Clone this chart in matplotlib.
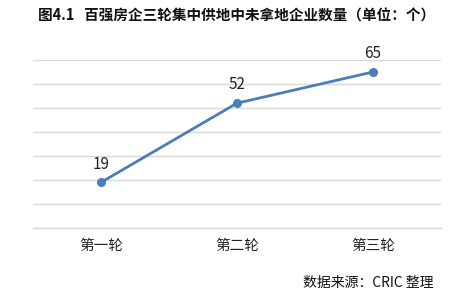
import matplotlib

matplotlib.use("Agg")
import matplotlib.pyplot as plt

plt.rcParams["font.family"] = ["Noto Sans CJK SC", "DejaVu Sans"]

rounds = ["第一轮", "第二轮", "第三轮"]
counts = [19, 52, 65]
title = "图4.1   百强房企三轮集中供地中未拿地企业数量（单位：个）"
source = "数据来源：CRIC 整理"

fig = plt.figure(figsize=(4.73, 2.95), dpi=100)
ax = fig.add_axes([0.0698, 0.2271, 0.862, 0.5695])

x = range(len(rounds))
ax.plot(x, counts, color="#4A7EBB", linewidth=2.0, marker="o", markersize=5.5)
for xi, v in zip(x, counts):
    ax.annotate(str(v), (xi, v), xytext=(0, 7), textcoords="offset points",
                ha="center", va="bottom", fontsize=11, color="#222222")

ax.set_xlim(-0.5, 2.5)
ax.set_ylim(0, 70)
ax.set_yticks(range(0, 71, 10))
ax.set_yticklabels([])
ax.yaxis.grid(True, color="#d9d9d9", linewidth=1.0)
ax.set_axisbelow(True)
ax.set_xticks(list(x))
ax.set_xticklabels(rounds, fontsize=10.5, color="#222222")
ax.tick_params(length=0, pad=8)
for name, spine in ax.spines.items():
    spine.set_visible(name == "bottom")
ax.spines["bottom"].set_color("#d9d9d9")
ax.spines["bottom"].set_linewidth(1.0)

fig.text(0.5, 0.948, title, ha="center", va="center", fontsize=10.5,
         fontweight="bold", color="#111111")
fig.text(0.917, 0.04, source, ha="right", va="center", fontsize=10,
         color="#111111")

fig.savefig("out.png", dpi=100)
